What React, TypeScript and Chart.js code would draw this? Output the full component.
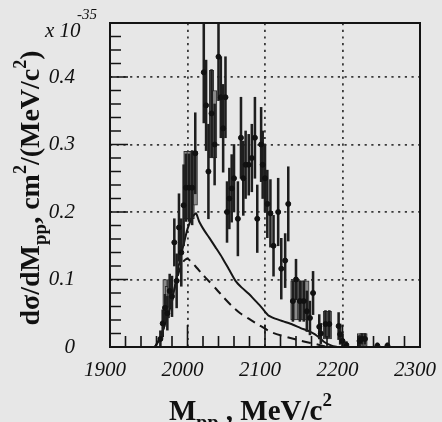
import React, { useEffect, useRef } from "react";
import { Chart, registerables } from "chart.js";

Chart.register(...registerables);

// ---- data ----
const massBins = [
  1965, 1968, 1971, 1974, 1977, 1980, 1983, 1986, 1989, 1992, 1995, 1998, 2002, 2006, 2010,
  2021, 2024, 2027, 2031, 2035, 2040, 2043, 2046, 2049, 2051, 2054, 2057, 2060, 2065, 2069,
  2072, 2075, 2079, 2083, 2087, 2090, 2095, 2097, 2100, 2103, 2107, 2111, 2117, 2121, 2126,
  2130, 2136, 2140, 2145, 2150, 2154, 2158, 2162, 2170, 2172, 2178, 2183, 2195, 2197, 2200,
  2205, 2222, 2225, 2229, 2245, 2258,
];
const crossSection = [
  0.012, 0.035, 0.058, 0.05, 0.083, 0.075, 0.155, 0.098, 0.177, 0.14, 0.21, 0.236, 0.236, 0.236, 0.287,
  0.407, 0.358, 0.26, 0.346, 0.3, 0.43, 0.37, 0.324, 0.37, 0.2, 0.22, 0.235, 0.25, 0.19, 0.31,
  0.25, 0.27, 0.27, 0.28, 0.31, 0.19, 0.3, 0.27, 0.25, 0.212, 0.198, 0.15, 0.2, 0.116, 0.128,
  0.212, 0.068, 0.1, 0.068, 0.068, 0.053, 0.043, 0.08, 0.03, 0.02, 0.034, 0.034, 0.031, 0.019, 0.009,
  0.003, 0.009, 0.012, 0.012, 0.002, 0.002,
];
const statError = [
  0.012, 0.02, 0.02, 0.025, 0.025, 0.03, 0.035, 0.04, 0.05, 0.05, 0.06, 0.05, 0.05, 0.055, 0.06,
  0.075, 0.067, 0.07, 0.065, 0.06, 0.065, 0.06, 0.065, 0.06, 0.045, 0.045, 0.05, 0.05, 0.055, 0.06,
  0.055, 0.05, 0.045, 0.05, 0.06, 0.05, 0.055, 0.05, 0.05, 0.05, 0.05, 0.045, 0.05, 0.045, 0.04,
  0.055, 0.03, 0.03, 0.03, 0.03, 0.03, 0.025, 0.032, 0.018, 0.015, 0.02, 0.02, 0.02, 0.015, 0.01,
  0.005, 0.008, 0.008, 0.008, 0.004, 0.004,
];
const sysLow: (number | null)[] = [
  null, null, 0.045, 0.043, 0.06, null, null, null, null, null, null, 0.19, 0.19, 0.19, 0.21,
  null, null, null, 0.28, 0.28, null, null, null, null, null, null, null, null, null, null,
  null, null, null, null, null, null, null, null, null, null, null, null, null, null, null,
  null, 0.04, 0.04, 0.04, 0.04, 0.04, null, null, null, null, 0.012, 0.012, null, null, null,
  null, 0, 0, 0, null, null,
];
const sysHigh: (number | null)[] = [
  null, null, 0.1, 0.09, 0.1, null, null, null, null, null, null, 0.29, 0.29, 0.29, 0.29,
  null, null, null, 0.41, 0.38, null, null, null, null, null, null, null, null, null, null,
  null, null, null, null, null, null, null, null, null, null, null, null, null, null, null,
  null, 0.098, 0.098, 0.098, 0.098, 0.098, null, null, null, null, 0.053, 0.053, null, null, null,
  null, 0.02, 0.02, 0.02, null, null,
];

const solidMass = [
  1958, 1963, 1968, 1974, 1980, 1985, 1990, 1995, 2000, 2006, 2011, 2015, 2022, 2028, 2036, 2045, 2054,
  2062, 2070, 2079, 2088, 2096, 2104, 2113, 2126, 2136, 2146, 2156, 2164, 2171, 2177, 2186, 2194,
];
const solidValue = [
  0, 0.01, 0.024, 0.044, 0.068, 0.098, 0.128, 0.152, 0.175, 0.192, 0.198, 0.186, 0.172, 0.162, 0.148, 0.132, 0.114,
  0.098, 0.088, 0.079, 0.068, 0.058, 0.047, 0.042, 0.037, 0.033, 0.028, 0.024, 0.019, 0.013, 0.007, 0.002, 0,
];
const dashedMass = [
  1958, 1963, 1968, 1974, 1980, 1985, 1990, 1995, 2000, 2010, 2019, 2028, 2037, 2047, 2057, 2068, 2079,
  2093, 2108, 2121, 2134, 2147, 2159, 2170, 2180,
];
const dashedValue = [
  0, 0.01, 0.024, 0.044, 0.068, 0.095, 0.115, 0.127, 0.131, 0.12, 0.108, 0.097, 0.086, 0.073, 0.061, 0.05, 0.042,
  0.032, 0.022, 0.017, 0.013, 0.009, 0.006, 0.003, 0,
];

const xTickLabels = ["1900", "2000", "2100", "2200", "2300"];
const yTickLabels = ["0", "0.1", "0.2", "0.3", "0.4"];

const SERIF = "'Liberation Serif', 'DejaVu Serif', serif";

type Seg = { t: string; s: number; dy: number };

function drawSegs(ctx: CanvasRenderingContext2D, segs: Seg[], x0: number, weight: string, style: string) {
  let x = x0;
  for (const sg of segs) {
    ctx.font = `${style} ${weight} ${sg.s}px ${SERIF}`;
    ctx.fillText(sg.t, x, sg.dy);
    x += ctx.measureText(sg.t).width;
  }
}
function segsWidth(ctx: CanvasRenderingContext2D, segs: Seg[], weight: string, style: string) {
  let w = 0;
  for (const sg of segs) {
    ctx.font = `${style} ${weight} ${sg.s}px ${SERIF}`;
    w += ctx.measureText(sg.t).width;
  }
  return w;
}

const bgPlugin = {
  id: "bg",
  beforeDraw(chart: any) {
    const { ctx, width, height } = chart;
    ctx.save();
    ctx.fillStyle = "#e7e7e7";
    ctx.fillRect(0, 0, width, height);
    ctx.restore();
  },
};

const framePlugin = {
  id: "frame",
  afterDraw(chart: any) {
    const { ctx, chartArea } = chart;
    const { left, right, top, bottom } = chartArea;
    const xs = chart.scales.x;
    const ys = chart.scales.y;
    ctx.save();
    ctx.strokeStyle = "#141414";
    ctx.lineWidth = 1.6;
    ctx.beginPath();
    for (let k = 0; ; k++) {
      const v = xs.min + k * 20;
      if (v > xs.max + 1e-6) break;
      const px = xs.getPixelForValue(v);
      const len = k % 5 === 0 ? 22 : 11;
      ctx.moveTo(px, bottom);
      ctx.lineTo(px, bottom - len);
    }
    for (let k = 0; ; k++) {
      const v = k * 0.02;
      if (v > ys.max + 1e-9) break;
      const py = ys.getPixelForValue(v);
      const len = k % 5 === 0 ? 18 : 11;
      ctx.moveTo(left, py);
      ctx.lineTo(left + len, py);
    }
    ctx.stroke();
    ctx.lineWidth = 2;
    ctx.strokeRect(left, top, right - left, bottom - top);

    ctx.fillStyle = "#111";
    ctx.textBaseline = "alphabetic";
    ctx.textAlign = "left";

    // exponent label
    ctx.font = `italic 21px ${SERIF}`;
    ctx.fillText("x 10", 45, 37);
    ctx.font = `italic 15px ${SERIF}`;
    ctx.fillText("-35", 77, 19);

    // x title
    const xSegs: Seg[] = [
      { t: "M", s: 29, dy: 0 },
      { t: "pp", s: 20, dy: 9 },
      { t: " , MeV/c", s: 29, dy: 0 },
      { t: "2", s: 19, dy: -14 },
    ];
    ctx.save();
    ctx.translate(0, 420);
    drawSegs(ctx, xSegs, 169, "bold", "normal");
    ctx.restore();

    // y title (rotated)
    const ySegs: Seg[] = [
      { t: "dσ/dM", s: 28, dy: 0 },
      { t: "pp", s: 19, dy: 7 },
      { t: ", cm", s: 28, dy: 0 },
      { t: "2", s: 18, dy: -13 },
      { t: "/(MeV/c", s: 28, dy: 0 },
      { t: "2", s: 18, dy: -13 },
      { t: ")", s: 28, dy: 0 },
    ];
    ctx.save();
    ctx.translate(39, 188);
    ctx.rotate(-Math.PI / 2);
    const w = segsWidth(ctx, ySegs, "bold", "normal");
    drawSegs(ctx, ySegs, -w / 2, "bold", "normal");
    ctx.restore();

    ctx.restore();
  },
};

export default function App() {
  const ref = useRef<HTMLCanvasElement | null>(null);
  useEffect(() => {
    if (!ref.current) return;
    const errorBarData = massBins.map((m, i) => ({
      x: m,
      y: [Math.max(0, crossSection[i] - statError[i]), crossSection[i] + statError[i]],
    }));
    const boxData: any[] = [];
    massBins.forEach((m, i) => {
      const lo = sysLow[i];
      const hi = sysHigh[i];
      if (lo !== null && hi !== null) boxData.push({ x: m, y: [lo, hi] });
    });
    const pointData = massBins.map((m, i) => ({ x: m, y: crossSection[i] }));
    const solidData = solidMass.map((m, i) => ({ x: m, y: solidValue[i] }));
    const dashedData = dashedMass.map((m, i) => ({ x: m, y: dashedValue[i] }));

    const tickFont = { family: SERIF, style: "italic" as const, size: 21 };

    const chart = new Chart(ref.current, {
      type: "scatter",
      data: {
        datasets: [
          {
            type: "bar",
            data: boxData,
            backgroundColor: "#8a8a8a",
            borderColor: "#2e2e2e",
            borderWidth: 1,
            borderSkipped: false,
            barThickness: 4.5,
            grouped: false,
            order: 4,
          } as any,
          {
            type: "line",
            data: solidData,
            borderColor: "#161616",
            borderWidth: 2,
            pointRadius: 0,
            tension: 0.2,
            fill: false,
            order: 3,
          } as any,
          {
            type: "line",
            data: dashedData,
            borderColor: "#161616",
            borderWidth: 2,
            borderDash: [9, 6],
            pointRadius: 0,
            tension: 0.2,
            fill: false,
            order: 3,
          } as any,
          {
            type: "bar",
            data: errorBarData,
            backgroundColor: "#1e1e1e",
            borderWidth: 0,
            barThickness: 1.9,
            grouped: false,
            order: 2,
          } as any,
          {
            type: "scatter",
            data: pointData,
            backgroundColor: "#111",
            borderColor: "#111",
            pointRadius: 2.5,
            order: 1,
          } as any,
        ],
      },
      options: {
        responsive: false,
        animation: false,
        events: [],
        layout: { padding: { top: 23, right: 22, left: 0, bottom: 0 } },
        plugins: { legend: { display: false }, tooltip: { enabled: false } },
        scales: {
          x: {
            type: "linear",
            min: 1900,
            max: 2300,
            offset: false,
            afterFit: (s: any) => {
              s.height = 75;
              s.paddingLeft = 0;
              s.paddingRight = 0;
            },
            grid: { color: "#3a3a3a", lineWidth: 1.8, drawTicks: false, offset: false },
            border: { display: false, dash: [2.2, 4.5] },
            ticks: {
              stepSize: 100,
              padding: 11,
              labelOffset: -5,
              color: "#111",
              font: tickFont,
              maxRotation: 0,
              callback: (v: any) => {
                const idx = Math.round((Number(v) - 1900) / 100);
                return xTickLabels[idx] ?? "";
              },
            },
          },
          y: {
            type: "linear",
            min: 0,
            max: 0.48,
            afterFit: (s: any) => {
              s.width = 110;
              s.paddingTop = 0;
              s.paddingBottom = 0;
            },
            grid: { color: "#3a3a3a", lineWidth: 1.8, drawTicks: false },
            border: { display: false, dash: [2.2, 4.5] },
            ticks: {
              stepSize: 0.1,
              includeBounds: false,
              padding: 35,
              color: "#111",
              font: tickFont,
              callback: (v: any) => {
                const idx = Math.round(Number(v) * 10);
                return yTickLabels[idx] ?? "";
              },
            },
          },
        },
      },
      plugins: [bgPlugin, framePlugin],
    });
    return () => chart.destroy();
  }, []);

  return (
    <div style={{ position: "fixed", left: 0, top: 0, width: 442, height: 422 }}>
      <canvas ref={ref} width={442} height={422} style={{ width: 442, height: 422 }} />
    </div>
  );
}
